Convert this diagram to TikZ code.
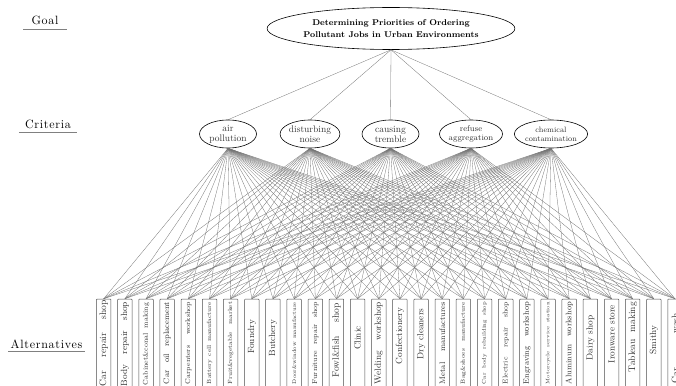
\documentclass[tikz,border=0pt]{standalone}
\usepackage{fontspec}
\newfontfamily\lblfont{lmroman10-regular.otf}[LetterSpace=6]
\usetikzlibrary{shapes.geometric}
\begin{document}
\begin{tikzpicture}[x=1pt,y=-1pt,
  link/.style={draw=black!55, line width=0.3pt},
  goalnode/.style={ellipse, draw, line width=0.6pt, minimum width=214pt, minimum height=42pt, inner sep=0pt, align=center, font=\bfseries\fontsize{8.4}{12.6}\selectfont},
  crit/.style={ellipse, draw, line width=0.6pt, minimum height=28pt, inner sep=0pt, align=center, text=black!80},
  altbox/.style={rectangle, draw=black!70, line width=0.5pt, fill=white, minimum width=14.5pt, minimum height=100pt, inner sep=0pt, rounded corners=0.8pt},
  alttext/.style={rotate=90, inner sep=0pt, text=black!80},
  lbl/.style={font=\lblfont\fontsize{12}{12}\selectfont, anchor=base, inner xsep=1pt, inner ysep=3.5pt},
  uline/.style={draw=black!50, line width=0.7pt}
]
\useasboundingbox (0,0) rectangle (676,385);
\clip (0,0) rectangle (676,385);

% level labels
\node[lbl] (lg) at (45,25) {Goal};
\node[lbl] (lc) at (48,128.5) {Criteria};
\node[lbl] (la) at (46.5,348) {Alternatives};
\draw[uline] ([xshift=-7pt]lg.south west) -- ([xshift=7pt]lg.south east);
\draw[uline] ([xshift=-5pt]lc.south west) -- ([xshift=5pt]lc.south east);
\draw[uline] ([xshift=-1pt]la.south west) -- ([xshift=1pt]la.south east);

% goal
\node[goalnode] (goal) at (391,28.5) {Determining Priorities of Ordering\\Pollutant Jobs in Urban Environments};

% criteria
\node[crit, minimum width=57pt, font=\fontsize{9.5}{10}\selectfont] (c1) at (228,134) {air\\pollution};
\node[crit, minimum width=54pt, font=\fontsize{9.5}{10}\selectfont] (c2) at (310,134) {disturbing\\noise};
\node[crit, minimum width=57pt, font=\fontsize{9.5}{10}\selectfont] (c3) at (390.5,134) {causing\\tremble};
\node[crit, minimum width=56pt, font=\fontsize{8.3}{9.5}\selectfont] (c4) at (471,134) {refuse\\aggregation};
\node[crit, minimum width=56pt, font=\fontsize{7.8}{9}\selectfont] (c5) at (551,134) {chemical\\contamination};

% alternative boxes
\foreach \n in {1,...,28}
  \node[altbox] (a\n) at ({103.7+21.16*(\n-1)},349) {};

% alternative texts
\foreach \n/\fs/\len/\yc/\txt in {
  1/9.5/86/343/Car repair shop,
  2/9/84/344/Body repair shop,
  3/7/82/344/Cabinet\&conal making,
  4/8/82/343/Car oil replacement,
  5/7/82/343/Carpenters workshop,
  6/6/82/343/Battery cell manufacture,
  7/6/82/343/Fruit\&vegetable market,
  8/9/0/337/Foundry,
  9/9/0/338/Butchery,
  10/5.5/82/343/Door\&window manufacture,
  11/7/82/343/Furniture repair shop,
  12/9.5/74/340/Fowl\&fish shop,
  13/9/0/338/Clinic,
  14/9/82/343/Welding workshop,
  15/9/0/336/Confectionery,
  16/9/0/334/Dry cleaners,
  17/8/82/343/Metal manufactures,
  18/6/82/343/Bag\&shoes manufacture,
  19/5.5/82/343/Car body rebuilding shop,
  20/7/82/343/Electric repair shop,
  21/8/82/343/Engraving workshop,
  22/5/82/343/Motorcycle service station,
  23/8/82/343/Aluminum workshop,
  24/9/0/338/Dairy shop,
  25/9/58/334/Ironware store,
  26/9.5/70/337/Tableau making,
  27/9/0/340/Smithy,
  28/9.5/70/348/Car wash}
  \node[alttext, font=\fontsize{\fs}{\fs}\selectfont] (t\n) at ({103.7+21.16*(\n-1)},\yc)
    {\ifdim\len pt=0pt \txt\else\makebox[\len pt][s]{\txt}\fi};

% connectors
\foreach \c in {1,...,5}
  \draw[link] (goal.south) -- (c\c.north);
\foreach \c in {1,...,5}
  \foreach \a in {1,...,28}
    \draw[link] (c\c.south) -- (a\a.north);
\end{tikzpicture}
\end{document}
